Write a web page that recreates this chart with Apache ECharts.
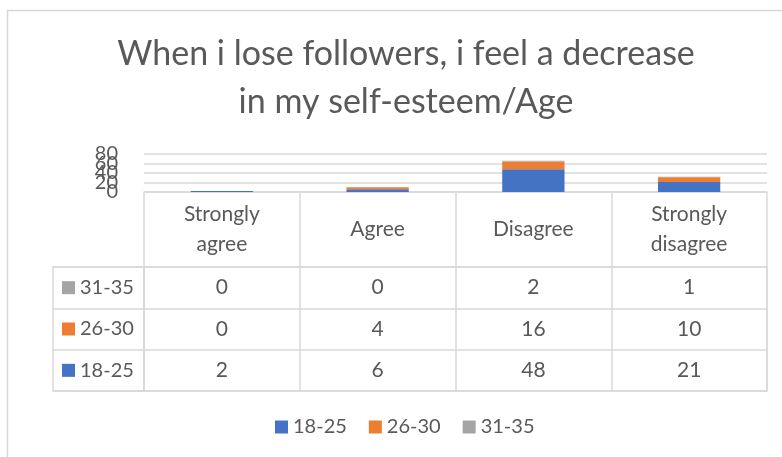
<!DOCTYPE html>
<html>
<head>
<meta charset="utf-8">
<script src="https://cdn.jsdelivr.net/npm/echarts@6/dist/echarts.min.js"></script>
<style>
html,body{margin:0;padding:0;background:#fff;}
#chart{width:782px;height:457px;}
</style>
</head>
<body>
<div id="chart"></div>
<script>
// ---- data ----
const titleText = 'When i lose followers, i feel a decrease\nin my self-esteem/Age';
const categories = ['Strongly\nagree', 'Agree', 'Disagree', 'Strongly\ndisagree'];
const seriesNames = ['18-25', '26-30', '31-35'];
const age18_25 = [2, 6, 48, 21];
const age26_30 = [0, 4, 16, 10];
const age31_35 = [0, 0, 2, 1];
const yTicks = [0, 20, 40, 60, 80];
const colors = ['#4472C4', '#ED7D31', '#A5A5A5'];

const seriesValues = [age18_25, age26_30, age31_35];
const FONT = 'Lato';
const TXT = '#595959';
const LINE = '#d9d9d9';

// table cells built from the series arrays
const tableCells = [];
seriesValues.forEach((vals, r) => vals.forEach((v, c) => tableCells.push([c, r, v])));

const rich = { t: { fontSize: 20, fontFamily: FONT, color: TXT, padding: [0, 0, 0, 5] } };
colors.forEach((c, i) => { rich['sq' + i] = { width: 13, height: 13, backgroundColor: c }; });

// the y tick labels overlap in the original; split them over two label axes so none is dropped
const evenTicks = yTicks.filter((v, i) => i % 2 === 0);
const oddTicks = yTicks.filter((v, i) => i % 2 === 1);
const yLabelStyle = { margin: 26, fontSize: 20, color: TXT, fontFamily: FONT, showMinLabel: true, showMaxLabel: true, hideOverlap: false };

const chart = echarts.init(document.getElementById('chart'));
chart.setOption({
  animation: false,
  textStyle: { fontFamily: FONT },
  title: {
    text: titleText, left: 401, top: 25, textAlign: 'center',
    textStyle: { fontFamily: FONT, fontWeight: 'normal', fontSize: 34, color: TXT, lineHeight: 48 }
  },
  graphic: [{
    type: 'rect', silent: true,
    shape: { x: 7.5, y: 10.5, width: 900, height: 600 },
    style: { fill: 'none', stroke: LINE, lineWidth: 1.5 }
  }],
  legend: {
    data: seriesNames, left: 270, top: 412, icon: 'rect', itemWidth: 13, itemHeight: 13, itemGap: 22,
    textStyle: { fontFamily: FONT, fontSize: 20, color: TXT }
  },
  grid: [
    { left: 144, top: 154, width: 623, height: 38 },
    { left: 144, top: 267, width: 623, height: 124, show: true, borderColor: LINE, borderWidth: 1.5, backgroundColor: 'transparent' },
    { left: 53, top: 267, width: 91, height: 124, show: true, borderColor: LINE, borderWidth: 1.5, backgroundColor: 'transparent' }
  ],
  xAxis: [
    {
      type: 'category', gridIndex: 0, data: categories,
      axisLine: { lineStyle: { color: LINE, width: 1.5 } },
      axisTick: { show: true, length: 75, interval: 0, alignWithLabel: false, lineStyle: { color: LINE, width: 1.5 } },
      axisLabel: { interval: 0, margin: 37, verticalAlign: 'middle', fontSize: 21, lineHeight: 30, color: TXT, fontFamily: FONT }
    },
    {
      type: 'category', gridIndex: 1, data: categories, position: 'top',
      axisLine: { show: false }, axisTick: { show: false }, axisLabel: { show: false },
      splitLine: { show: true, interval: 0, lineStyle: { color: LINE, width: 1.5 } }
    },
    { type: 'category', gridIndex: 2, data: [''], show: false }
  ],
  yAxis: [
    {
      type: 'value', gridIndex: 0, min: 0, max: 80, interval: 20,
      axisLine: { show: false }, axisTick: { show: false },
      axisLabel: Object.assign({}, yLabelStyle, { formatter: v => evenTicks.includes(v) ? String(v) : '' }),
      splitLine: { lineStyle: { color: LINE, width: 1.5 } }
    },
    {
      type: 'category', gridIndex: 1, data: seriesNames,
      axisLine: { show: false },
      axisTick: { show: true, length: 91, interval: 0, alignWithLabel: false, lineStyle: { color: LINE, width: 1.5 } },
      splitLine: { show: true, interval: 0, lineStyle: { color: LINE, width: 1.5 } },
      axisLabel: {
        interval: 0, align: 'left', margin: 82,
        formatter: (v, i) => '{sq' + i + '|}{t|' + v + '}',
        rich: rich
      }
    },
    { type: 'category', gridIndex: 2, data: [''], show: false },
    {
      type: 'value', gridIndex: 0, min: 0, max: 80, interval: 20, position: 'left', offset: 0,
      axisLine: { show: false }, axisTick: { show: false }, splitLine: { show: false },
      axisLabel: Object.assign({}, yLabelStyle, { formatter: v => oddTicks.includes(v) ? String(v) : '' })
    }
  ],
  series: seriesNames.map((name, i) => ({
    name: name, type: 'bar', stack: 'total', xAxisIndex: 0, yAxisIndex: 0,
    barWidth: '40%', data: seriesValues[i],
    itemStyle: { color: colors[i] }
  })).concat([{
    type: 'custom', xAxisIndex: 1, yAxisIndex: 1, data: tableCells, silent: true,
    encode: { x: 0, y: 1 },
    renderItem: (params, api) => {
      const p = api.coord([api.value(0), api.value(1)]);
      return {
        type: 'text', x: p[0], y: p[1],
        style: { text: String(api.value(2)), align: 'center', verticalAlign: 'middle',
                 fontSize: 21, fontFamily: FONT, fill: TXT }
      };
    }
  }])
});
</script>
</body>
</html>
